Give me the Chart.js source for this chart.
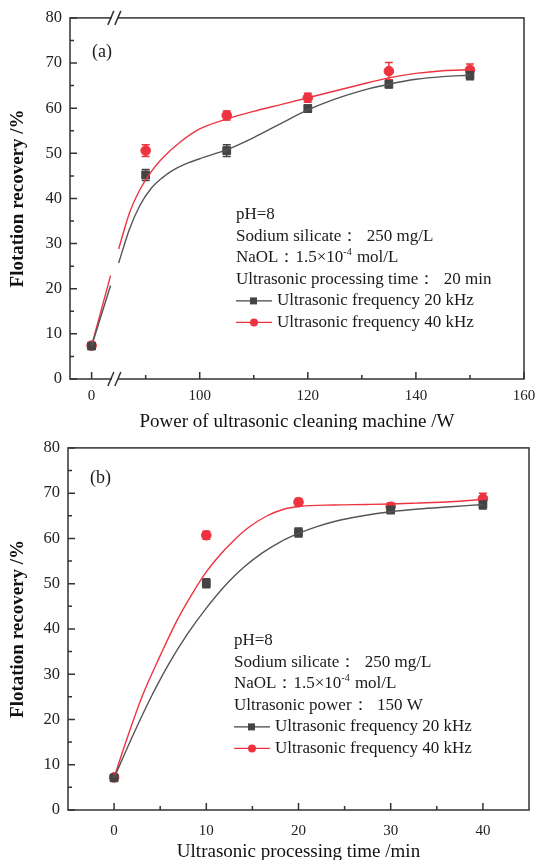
<!DOCTYPE html>
<html>
<head>
<meta charset="utf-8">
<script src="https://cdn.jsdelivr.net/npm/chart.js@4.4.0/dist/chart.umd.min.js"></script>
<style>
html, body { margin: 0; padding: 0; background: #fff; }
.box { position: relative; width: 536px; height: 430px; }
</style>
</head>
<body>
<div class="box"><canvas id="chartA"></canvas></div>
<div class="box"><canvas id="chartB"></canvas></div>
<script>
// ---- (a) power of ultrasonic cleaning machine (W) ----
// 0 W sits left of an axis break, drawn at axis position ZERO_AT
const ZERO_AT = 80;
const BREAK_AT = 84.3;
const powerA = [0, 90, 105, 120, 135, 150];
const recA20 = [7.3, 45.2, 50.6, 59.9, 65.3, 67.3];
const errA20 = [0.6, 1.2, 1.3, 0.8, 0.8, 1.0];
const recA40 = [7.4, 50.6, 58.4, 62.3, 68.2, 68.5];
const errA40 = [0.6, 1.3, 1.0, 1.0, 1.9, 1.3];
// fitted curves (axis positions; null = gap at the break)
const fitA20x = [80, 83.5, 84.3, 85, 87, 89, 91, 93, 95, 97.5, 100, 105, 110, 115, 120, 125, 130, 135, 140, 145, 150];
const fitA20y = [7.3, 20.7, null, 25.7, 33.2, 38.6, 42.2, 44.5, 46.2, 47.7, 48.8, 50.8, 53.5, 56.6, 59.6, 62.0, 63.9, 65.3, 66.4, 67.0, 67.3];
const fitA40x = [80, 83.5, 84.3, 85, 87, 89, 91, 93, 96.3, 100, 105, 110, 115, 120, 125, 130, 135, 140, 145, 150];
const fitA40y = [7.4, 22.9, null, 28.8, 36.8, 42.1, 45.9, 48.8, 52.4, 55.4, 57.6, 59.3, 60.8, 62.3, 63.8, 65.3, 66.7, 67.7, 68.3, 68.5];
const xTicksA = [0, 100, 120, 140, 160];
const xMinorA = [90, 110, 130, 150];

// ---- (b) ultrasonic processing time (min) ----
const timeB = [0, 10, 20, 30, 40];
const recB20 = [7.1, 50.1, 61.3, 66.3, 67.5];
const errB20 = [0.6, 1.0, 1.0, 0.8, 1.0];
const recB40 = [7.2, 60.7, 68.0, 67.0, 68.8];
const errB40 = [0.6, 0.9, 0.8, 0.8, 1.2];
const fitB20x = [0, 2, 4, 6, 8, 10, 12, 14, 16, 18, 20, 22, 24, 27, 30, 33, 36.5, 40];
const fitB20y = [7.1, 16.3, 24.9, 32.5, 39.0, 44.6, 49.5, 53.5, 56.7, 59.2, 61.1, 62.6, 63.8, 65.0, 65.9, 66.5, 67.0, 67.5];
const fitB40x = [0, 1.3, 3.1, 5, 6.8, 8.6, 10, 11.5, 12.9, 14.5, 16.5, 18.3, 20.2, 23.8, 27.4, 30, 32.8, 36.5, 40];
const fitB40y = [7.2, 15.2, 25.4, 34.1, 41.8, 48.2, 52.6, 56.4, 59.4, 62.3, 64.9, 66.4, 67.1, 67.4, 67.5, 67.6, 67.8, 68.1, 68.6];
const xTicksB = [0, 10, 20, 30, 40];
const xMinorB = [5, 15, 25, 35];

const yTicks = [0, 10, 20, 30, 40, 50, 60, 70, 80];
const yMinor = [5, 15, 25, 35, 45, 55, 65, 75];

const notesA = [['pH=8'], ['Sodium silicate：  250 mg/L'], ['NaOL：1.5×10', '-4', ' mol/L'], ['Ultrasonic processing time：  20 min']];
const notesB = [['pH=8'], ['Sodium silicate：  250 mg/L'], ['NaOL：1.5×10', '-4', ' mol/L'], ['Ultrasonic power：  150 W']];
const label20 = 'Ultrasonic frequency 20 kHz';
const label40 = 'Ultrasonic frequency 40 kHz';

const RED = '#ee3340';
const GRAY = '#444';
const SERIF = '"Liberation Serif", "Times New Roman", serif';

const pts = (xs, ys, f) => xs.map((x, i) => ({ x: f ? f(x) : x, y: ys[i] }));
const brk = p => (p === 0 ? ZERO_AT : p);

const errorBars = {
  id: 'errorBars',
  beforeDatasetsDraw(chart) {
    const { ctx, scales: { x, y } } = chart;
    chart.data.datasets.forEach(ds => {
      if (!ds.err) return;
      ctx.save();
      ctx.strokeStyle = ds.borderColor;
      ctx.lineWidth = 1.5;
      ds.data.forEach((p, i) => {
        const px = x.getPixelForValue(p.x);
        const t = y.getPixelForValue(p.y + ds.err[i]);
        const b = y.getPixelForValue(p.y - ds.err[i]);
        ctx.beginPath();
        ctx.moveTo(px, t); ctx.lineTo(px, b);
        ctx.moveTo(px - 4, t); ctx.lineTo(px + 4, t);
        ctx.moveTo(px - 4, b); ctx.lineTo(px + 4, b);
        ctx.stroke();
      });
      ctx.restore();
    });
  }
};

const frame = {
  id: 'frame',
  afterDatasetsDraw(chart, args, o) {
    const { ctx, chartArea: a, scales: { x, y } } = chart;
    ctx.save();
    ctx.strokeStyle = '#333';
    ctx.lineWidth = 1.5;
    ctx.strokeRect(a.left, a.top, a.right - a.left, a.bottom - a.top);
    ctx.beginPath();
    o.xMajor.forEach(v => { const p = x.getPixelForValue(v); ctx.moveTo(p, a.bottom); ctx.lineTo(p, a.bottom - 7); });
    o.xMinor.forEach(v => { const p = x.getPixelForValue(v); ctx.moveTo(p, a.bottom); ctx.lineTo(p, a.bottom - 4); });
    yTicks.forEach(v => { const p = y.getPixelForValue(v); ctx.moveTo(a.left, p); ctx.lineTo(a.left + 7, p); });
    yMinor.forEach(v => { const p = y.getPixelForValue(v); ctx.moveTo(a.left, p); ctx.lineTo(a.left + 4, p); });
    ctx.stroke();
    if (o.breakAt != null) {
      const bx = x.getPixelForValue(o.breakAt);
      [a.top, a.bottom].forEach(by => {
        ctx.fillStyle = '#fff';
        ctx.fillRect(bx - 3, by - 2, 6, 4);
        ctx.beginPath();
        ctx.moveTo(bx - 7, by + 7); ctx.lineTo(bx - 1, by - 7);
        ctx.moveTo(bx, by + 7); ctx.lineTo(bx + 6, by - 7);
        ctx.stroke();
      });
    }
    ctx.restore();
  }
};

const notes = {
  id: 'notes',
  afterDraw(chart, args, o) {
    const { ctx, chartArea: a } = chart;
    ctx.save();
    ctx.fillStyle = '#1a1a1a';
    ctx.textBaseline = 'middle';
    // panel tag
    ctx.font = '18px ' + SERIF;
    ctx.fillText(o.tag, a.left + 22, a.top + o.tagDy);
    const x0 = a.left + o.dx;
    let yy = a.top + o.dy;
    o.lines.forEach(line => {
      let xx = x0;
      line.forEach((seg, k) => {
        const sup = k === 1;
        ctx.font = (sup ? '10px ' : '17px ') + SERIF;
        ctx.fillText(seg, xx, sup ? yy - 6 : yy);
        xx += ctx.measureText(seg).width + (sup ? 1 : 0);
      });
      yy += o.gap;
    });
    chart.data.datasets.filter(ds => ds.err).forEach(ds => {
      ctx.strokeStyle = ds.borderColor;
      ctx.fillStyle = ds.backgroundColor;
      ctx.lineWidth = 1.3;
      ctx.beginPath(); ctx.moveTo(x0, yy); ctx.lineTo(x0 + 36, yy); ctx.stroke();
      if (ds.pointStyle === 'rect') ctx.fillRect(x0 + 14, yy - 3.5, 7, 7);
      else { ctx.beginPath(); ctx.arc(x0 + 18, yy, 4, 0, Math.PI * 2); ctx.fill(); }
      ctx.fillStyle = '#1a1a1a';
      ctx.font = '17px ' + SERIF;
      ctx.fillText(ds.label, x0 + 41, yy);
      yy += o.gap;
    });
    ctx.restore();
  }
};

function makeChart(id, p) {
  return new Chart(document.getElementById(id), {
    type: 'scatter',
    data: {
      datasets: [
        { label: 'fit20', data: p.fit20, showLine: true, borderColor: '#555', borderWidth: 1.4, pointRadius: 0, cubicInterpolationMode: 'monotone', spanGaps: false },
        { label: 'fit40', data: p.fit40, showLine: true, borderColor: RED, borderWidth: 1.4, pointRadius: 0, cubicInterpolationMode: 'monotone', spanGaps: false },
        { label: label20, data: p.pts20, err: p.err20, pointStyle: 'rect', pointRadius: 5.5, borderColor: GRAY, backgroundColor: GRAY },
        { label: label40, data: p.pts40, err: p.err40, pointStyle: 'circle', pointRadius: 4.8, borderColor: RED, backgroundColor: RED }
      ]
    },
    options: {
      responsive: true,
      maintainAspectRatio: false,
      animation: false,
      devicePixelRatio: 1,
      layout: { padding: p.pad },
      plugins: {
        legend: { display: false },
        tooltip: { enabled: false },
        frame: { xMajor: p.xMajor, xMinor: p.xMinor, breakAt: p.breakAt },
        notes: p.notes
      },
      scales: {
        x: {
          type: 'linear', min: p.xMin, max: p.xMax,
          grid: { display: false, drawTicks: false },
          border: { display: false },
          afterBuildTicks: s => { s.ticks = p.xMajor.map(v => ({ value: v })); },
          afterFit: s => { s.height = p.xH; s.paddingLeft = 0; s.paddingRight = 0; },
          ticks: { padding: p.xPad, color: '#222', font: { family: SERIF, size: 15 }, maxRotation: 0, callback: p.xLabel },
          title: { display: true, text: p.xTitle, color: '#111', font: { family: SERIF, size: 19 }, padding: { top: 0, bottom: p.titlePad } }
        },
        y: {
          min: 0, max: 80,
          grid: { display: false, drawTicks: false },
          border: { display: false },
          afterBuildTicks: s => { s.ticks = yTicks.map(v => ({ value: v })); },
          afterFit: s => { s.width = p.yW; },
          ticks: { padding: 8, color: '#222', font: { family: SERIF, size: 16.5 } },
          title: { display: true, text: 'Flotation recovery /%', color: '#111', font: { family: SERIF, size: 19, weight: 'bold' }, padding: { top: 7, bottom: 0 } }
        }
      }
    },
    plugins: [errorBars, frame, notes]
  });
}

makeChart('chartA', {
  fit20: pts(fitA20x, fitA20y),
  fit40: pts(fitA40x, fitA40y),
  pts20: pts(powerA, recA20, brk),
  pts40: pts(powerA, recA40, brk),
  err20: errA20, err40: errA40,
  xMin: 76, xMax: 160,
  xMajor: xTicksA.map(brk), xMinor: xMinorA, breakAt: BREAK_AT,
  xLabel: v => (v === ZERO_AT ? '0' : v),
  xTitle: 'Power of ultrasonic cleaning machine /W',
  pad: { top: 15, right: 12, left: 0, bottom: 0 },
  xH: 51, yW: 70, xPad: 8, titlePad: -3,
  notes: { tag: '(a)', tagDy: 34, lines: notesA, dx: 166, dy: 197, gap: 21.5 }
});

makeChart('chartB', {
  fit20: pts(fitB20x, fitB20y),
  fit40: pts(fitB40x, fitB40y),
  pts20: pts(timeB, recB20),
  pts40: pts(timeB, recB40),
  err20: errB20, err40: errB40,
  xMin: -5, xMax: 45,
  xMajor: xTicksB, xMinor: xMinorB, breakAt: null,
  xLabel: v => v,
  xTitle: 'Ultrasonic processing time /min',
  pad: { top: 12, right: 7, left: 0, bottom: 0 },
  xH: 50, yW: 68, xPad: 12, titlePad: -3.5,
  notes: { tag: '(b)', tagDy: 30, lines: notesB, dx: 166, dy: 193, gap: 21.5 }
});
</script>
</body>
</html>
